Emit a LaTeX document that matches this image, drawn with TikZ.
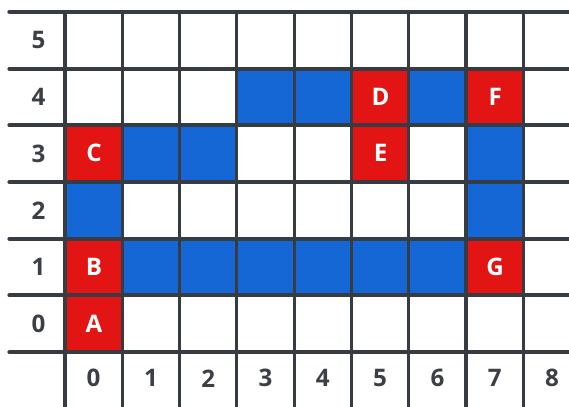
\documentclass[tikz,border=0pt]{standalone}
\usepackage{fontspec}
\setmainfont{Open Sans}
\usetikzlibrary{positioning}
\definecolor{gridline}{RGB}{55,60,66}
\definecolor{cellred}{RGB}{226,20,20}
\definecolor{cellblue}{RGB}{22,103,214}
\definecolor{axistext}{RGB}{60,64,68}
\tikzset{
  cellbox/.style={draw=none,minimum width=1cm,minimum height=0.99cm,
    inner sep=0pt,anchor=south west},
  redcell/.style={cellbox,fill=cellred,text=white,font=\large\bfseries},
  bluecell/.style={cellbox,fill=cellblue},
  rowline/.style={draw=gridline,line width=2pt,line cap=round},
  colline/.style={draw=gridline,line width=1.6pt},
  axislabel/.style={font=\large\bfseries,text=axistext}
}
\begin{document}
\begin{tikzpicture}[x=1cm,y=0.99cm]
  \useasboundingbox[fill=white] (-1.134,-0.952) rectangle (8.796,6.208);

  % path cells
  \foreach \cx/\cy [count=\i] in {0/2,1/3,2/3,3/4,4/4,6/4,7/3,7/2,1/1,2/1,3/1,4/1,5/1,6/1}
    \node[bluecell] (path\i) at (\cx,\cy) {};

  % marked cells
  \foreach \cx/\cy/\name in {0/0/A,0/1/B,0/3/C,5/4/D,5/3/E,7/4/F,7/1/G}
    \node[redcell] (cell\name) at (\cx,\cy) {\name};

  % grid
  \foreach \r in {0,...,6}
    \draw[rowline] (-0.97,\r) -- (8.9,\r);
  \foreach \c in {0,...,8}
    \draw[colline] (\c,-1) -- (\c,6);

  % axes
  \foreach \r in {0,...,5}
    \node[axislabel] (row\r) at (-0.46,\r+0.5) {\r};
  \foreach \c in {0,...,8}
    \node[axislabel] (col\c) at (\c+0.5,-0.46) {\c};
\end{tikzpicture}
\end{document}
